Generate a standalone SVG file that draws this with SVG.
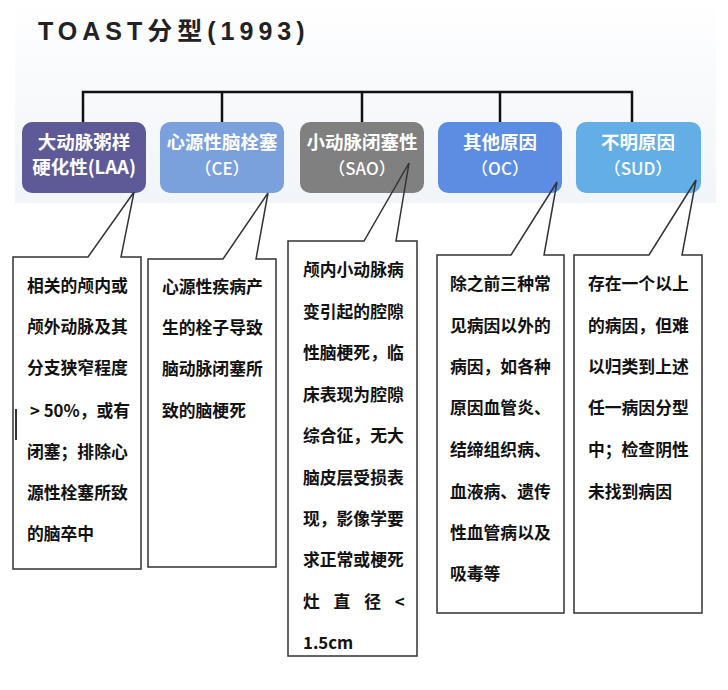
<svg xmlns="http://www.w3.org/2000/svg" width="728" height="690" viewBox="0 0 728 690">
<style>
.title{font-family:"Liberation Sans","Noto Sans CJK SC",sans-serif;font-weight:bold;font-size:25px;letter-spacing:5px;fill:#222}
.nt{font-family:"Noto Sans CJK SC",sans-serif;font-weight:bold;font-size:18.5px;fill:#fff;text-anchor:middle}
.nt2{font-family:"Noto Sans CJK SC",sans-serif;font-weight:500;font-size:17px;fill:#fff;text-anchor:middle}
.ct{font-family:"Noto Sans CJK SC",sans-serif;font-weight:bold;font-size:16.8px;fill:#111}
.cbg{fill:#fff;stroke:none}
.cout{fill:none;stroke:#333;stroke-width:1.5;stroke-linejoin:miter}
.conn{fill:none;stroke:#111;stroke-width:2.5}
</style>
<defs>
<linearGradient id="bg" x1="0" y1="0" x2="0" y2="1">
<stop offset="0" stop-color="#ffffff"/>
<stop offset="0.3" stop-color="#fafbfd"/>
<stop offset="1" stop-color="#f1f5f9"/>
</linearGradient>
</defs>
<rect x="15" y="0" width="701" height="203" fill="url(#bg)"/>
<text class="title" x="38" y="40">TOAST分型(1993)</text>
<g id="connectors">
<path class="conn" d="M83,122 V92 H632 V122 M222,92 V122 M362,92 V122 M500,92 V122"/>
</g>
<g id="node-laa">
<rect x="22" y="122" width="124" height="71" rx="10" fill="#5e5a98"/>
<text class="nt" x="84" y="149">大动脉粥样</text>
<text class="nt" x="84" y="174">硬化性(LAA)</text>
</g>
<g id="node-ce">
<rect x="160" y="122" width="124" height="71" rx="10" fill="#7ba1dd"/>
<text class="nt" x="222" y="149">心源性脑栓塞</text>
<text class="nt2" x="222" y="175">（CE）</text>
</g>
<g id="node-sao">
<rect x="300" y="122" width="124" height="71" rx="10" fill="#808080"/>
<text class="nt" x="362" y="149">小动脉闭塞性</text>
<text class="nt2" x="362" y="175">（SAO）</text>
</g>
<g id="node-oc">
<rect x="438" y="122" width="124" height="71" rx="10" fill="#5b8de2"/>
<text class="nt" x="500" y="149">其他原因</text>
<text class="nt2" x="500" y="175">（OC）</text>
</g>
<g id="node-sud">
<rect x="576" y="122" width="125" height="71" rx="10" fill="#64aee6"/>
<text class="nt" x="638" y="149">不明原因</text>
<text class="nt2" x="638" y="175">（SUD）</text>
</g>
<g id="callout-laa">
<rect class="cbg" x="13" y="257" width="128" height="312"/>
<path class="cout" d="M88,257 H13 V569 H141 V257 H121 L134,192 Z"/>
<path d="M16,409 V440" stroke="#333" stroke-width="2"/>
<text class="ct" x="27" y="292">相关的颅内或</text>
<text class="ct" x="27" y="333">颅外动脉及其</text>
<text class="ct" x="27" y="374">分支狭窄程度</text>
<text class="ct" x="30" y="417">&gt; 50%，或有</text>
<text class="ct" x="27" y="458">闭塞；排除心</text>
<text class="ct" x="27" y="499">源性栓塞所致</text>
<text class="ct" x="27" y="540">的脑卒中</text>
</g>
<g id="callout-ce">
<rect class="cbg" x="148" y="259" width="128" height="308"/>
<path class="cout" d="M223,259 H148 V567 H276 V259 H256 L268,193 Z"/>
<text class="ct" x="162" y="293">心源性疾病产</text>
<text class="ct" x="162" y="334">生的栓子导致</text>
<text class="ct" x="162" y="375">脑动脉闭塞所</text>
<text class="ct" x="162" y="417">致的脑梗死</text>
</g>
<g id="callout-sao">
<rect class="cbg" x="288" y="241" width="129" height="415"/>
<path class="cout" d="M364,241 H288 V656 H417 V241 H396 L409,163 Z"/>
<text class="ct" x="303" y="276">颅内小动脉病</text>
<text class="ct" x="303" y="318">变引起的腔隙</text>
<text class="ct" x="303" y="359">性脑梗死，临</text>
<text class="ct" x="303" y="401">床表现为腔隙</text>
<text class="ct" x="303" y="442">综合征，无大</text>
<text class="ct" x="303" y="484">脑皮层受损表</text>
<text class="ct" x="303" y="525">现，影像学要</text>
<text class="ct" x="303" y="566">求正常或梗死</text>
<text class="ct" x="303" y="608" word-spacing="10">灶 直 径 &lt;</text>
<text class="ct" x="303" y="649">1.5cm</text>
</g>
<g id="callout-oc">
<rect class="cbg" x="437" y="255" width="127" height="358"/>
<path class="cout" d="M511,255 H437 V613 H564 V255 H544 L557,182 Z"/>
<text class="ct" x="450" y="290">除之前三种常</text>
<text class="ct" x="450" y="332">见病因以外的</text>
<text class="ct" x="450" y="373">病因，如各种</text>
<text class="ct" x="450" y="414">原因血管炎、</text>
<text class="ct" x="450" y="456">结缔组织病、</text>
<text class="ct" x="450" y="498">血液病、遗传</text>
<text class="ct" x="450" y="539">性血管病以及</text>
<text class="ct" x="450" y="580">吸毒等</text>
</g>
<g id="callout-sud">
<rect class="cbg" x="574" y="255" width="128" height="358"/>
<path class="cout" d="M649,255 H574 V613 H702 V255 H682 L696,180 Z"/>
<text class="ct" x="588" y="290">存在一个以上</text>
<text class="ct" x="588" y="332">的病因，但难</text>
<text class="ct" x="588" y="373">以归类到上述</text>
<text class="ct" x="588" y="414">任一病因分型</text>
<text class="ct" x="588" y="456">中；检查阴性</text>
<text class="ct" x="588" y="498">未找到病因</text>
</g>
</svg>
